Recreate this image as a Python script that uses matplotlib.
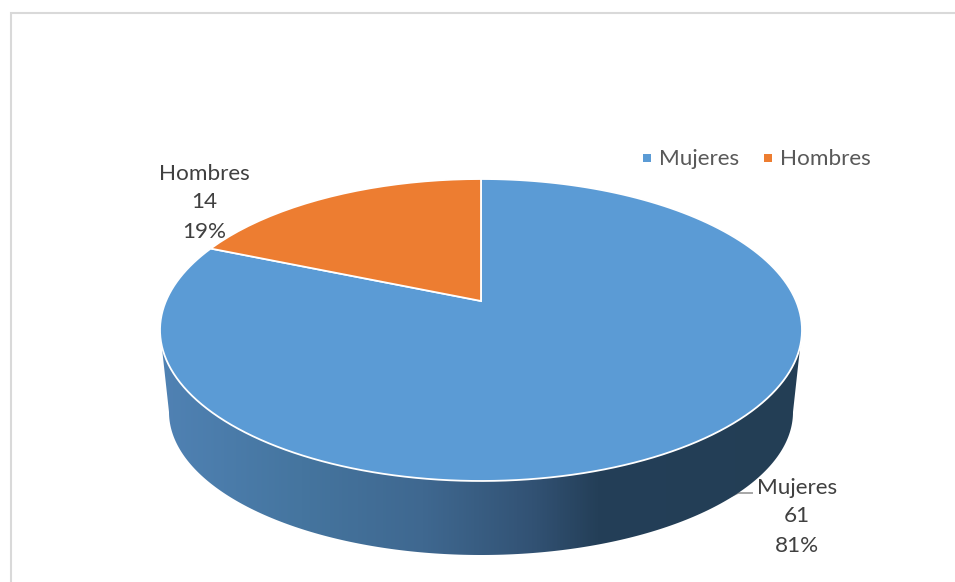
import numpy as np
import matplotlib
matplotlib.use("Agg")
import matplotlib.pyplot as plt
from matplotlib.colors import LinearSegmentedColormap
from matplotlib.patches import Polygon, Rectangle
from matplotlib.path import Path
from matplotlib.transforms import Transform

categories = ["Mujeres", "Hombres"]
values = [61, 14]
percent_labels = ["81%", "19%"]
colors = ["#5B9BD5", "#ED7D31"]
wall_stops = [(0.0, "#5082B4"), (0.22, "#45759F"), (0.41, "#3F6890"),
              (0.58, "#325274"), (0.68, "#243F58"), (1.0, "#233E55")]

plt.rcParams["font.family"] = ["Lato", "DejaVu Sans"]
W, H = 955, 582
CX, CY = 481.0, 330.0
A, B = 321.0, 151.0
K = 0.192
APEX = 29.0


class Perspective(Transform):
    """Maps the unit pie disc onto the tilted top face, in pixels."""
    input_dims = output_dims = 2
    is_affine = False

    def transform_non_affine(self, xy):
        xy = np.asarray(xy, float)
        d = 1 + K * xy[:, 1]
        a = A * np.sqrt(1 - K ** 2)
        b = 122.0 * (1 + K)
        return np.column_stack([CX + a * xy[:, 0] / d,
                                CY - APEX - b * xy[:, 1] / d])

    def transform_path_non_affine(self, path):
        pts = []
        s = np.linspace(0, 1, 12)
        for bez, code in path.iter_bezier():
            if code == Path.MOVETO:
                pts.append(bez.control_points[:1])
            elif code == Path.CLOSEPOLY:
                continue
            else:
                pts.append(bez(s)[1:])
        v = self.transform_non_affine(np.vstack(pts))
        return Path(np.vstack([v, v[:1]]), closed=True)

    def inverted(self):
        return self


fig = plt.figure(figsize=(W / 100, H / 100), dpi=100, facecolor="white")
ax = fig.add_axes([0, 0, 1, 1])
wedges, _ = ax.pie(values, colors=colors, startangle=90, counterclock=False,
                   wedgeprops=dict(edgecolor="white", linewidth=1.3))
ax.set_aspect("auto")
ax.set_xlim(0, W)
ax.set_ylim(H, 0)
ax.axis("off")
persp = Perspective() + ax.transData
for w in wedges:
    w.set_transform(persp)
    w.set_zorder(5)

# chart frame
ax.plot([W, 10.5, 10.5], [12.5, 12.5, H], color="#D9D9D9", lw=1.5, zorder=1,
        solid_joinstyle="miter")

# side wall of the pie
t = np.linspace(0, np.pi, 200)
low_x = CX + 312 * np.cos(t)
low_y = 412 + 143 * np.sin(t)
top_t = np.linspace(np.pi, 0, 100)
up_x = CX + A * np.cos(top_t)
up_y = CY + 151 * np.sin(top_t)
wall = Polygon(np.column_stack([np.r_[low_x, up_x], np.r_[low_y, up_y]]),
               closed=True, facecolor="none", edgecolor="none",
               transform=ax.transData)
ax.add_patch(wall)
cmap = LinearSegmentedColormap.from_list("wall", wall_stops)
im = ax.imshow(np.linspace(0, 1, 512)[None, :], cmap=cmap, aspect="auto",
               extent=(158, 804, 560, 320), zorder=2, interpolation="bilinear")
im.set_clip_path(wall)
ax.set_xlim(0, W)
ax.set_ylim(H, 0)

# labels
TEXT = "#404040"
FS = 16.2
for (x, ys), cat, val, pct in zip([(797, (488, 516, 546)), (204.5, (174, 202, 232))],
                                  categories, values, percent_labels):
    for y, s in zip(ys, (cat, str(val), pct)):
        ax.text(x, y, s, ha="center", va="center", fontsize=FS, color=TEXT, zorder=7)

# leader line, running along the lower edge of the wall
ax.plot([681, 738, 752], [519, 493, 493], color="#A6A6A6", lw=1.4, zorder=1.5)

# legend
for x0, tx, cat, c in zip((643, 764), (660, 781), categories, colors):
    ax.add_patch(Rectangle((x0, 154), 8, 8, facecolor=c, edgecolor="none", zorder=7))
    ax.text(tx - 1, 159, cat, ha="left", va="center", fontsize=FS, color="#595959", zorder=7)

fig.savefig("out.png", dpi=100, facecolor="white")
